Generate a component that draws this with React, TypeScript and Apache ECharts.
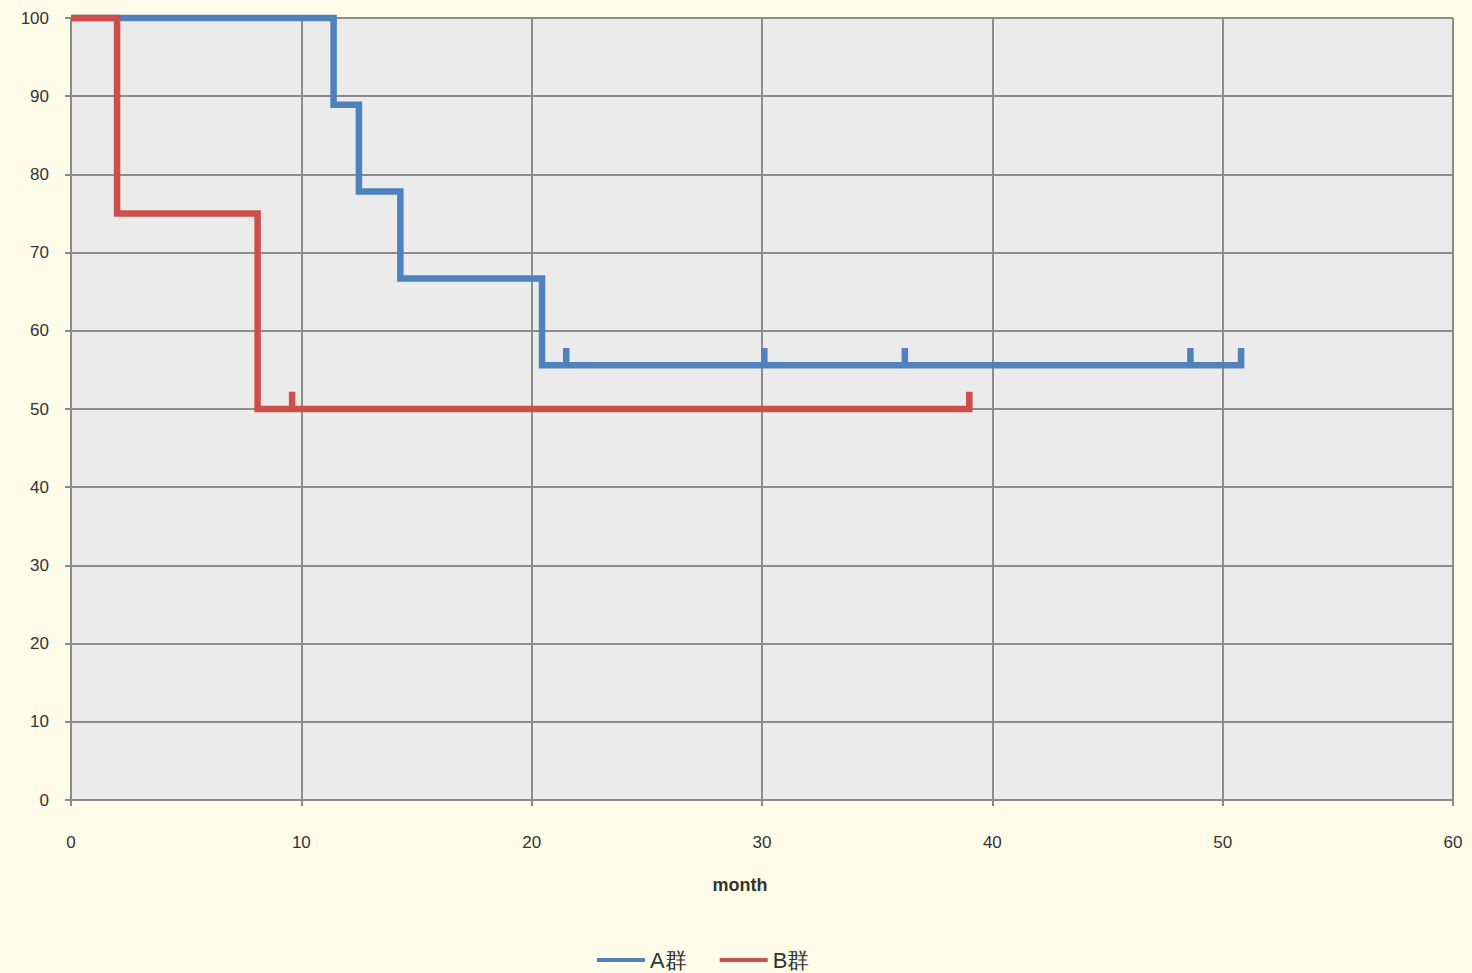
import React, { useEffect, useRef } from "react";
import * as echarts from "echarts";

// Kaplan–Meier data
const groupNames = ["A群", "B群"];
// Group A: event times (month) and survival (%) after each event
const aEventTimes = [11.4, 12.5, 14.3, 20.45];
const aSurvival = [88.9, 77.8, 66.7, 55.6];
const aCensorTimes = [21.5, 30.1, 36.2, 48.6, 50.8];
// Group B
const bEventTimes = [2.0, 8.1];
const bSurvival = [75, 50];
const bCensorTimes = [9.6, 39.0];

const tickHeight = 2.2; // censor tick height, in %
const xTicks = [0, 10, 20, 30, 40, 50, 60];
const yTicks = [0, 10, 20, 30, 40, 50, 60, 70, 80, 90, 100];

function kmPath(events: number[], surv: number[], censors: number[]) {
  type Ev = { t: number; kind: "e" | "c"; s?: number };
  const all: Ev[] = [
    ...events.map((t, i) => ({ t, kind: "e" as const, s: surv[i] })),
    ...censors.map((t) => ({ t, kind: "c" as const })),
  ].sort((a, b) => a.t - b.t);
  const pts: number[][] = [[0, 100]];
  let cur = 100;
  for (const e of all) {
    if (e.kind === "e") {
      pts.push([e.t, cur]);
      cur = e.s as number;
      pts.push([e.t, cur]);
    } else {
      pts.push([e.t, cur]);
      pts.push([e.t, cur + tickHeight]);
      pts.push([e.t, cur]);
    }
  }
  return pts;
}

export default function App() {
  const ref = useRef<HTMLDivElement>(null);
  useEffect(() => {
    document.body.style.margin = "0";
    const chart = echarts.init(ref.current!, undefined, { renderer: "svg" });
    const font = "'Liberation Sans', Arial, sans-serif";
    chart.setOption({
      animation: false,
      backgroundColor: "#fffde9",
      textStyle: { fontFamily: font },
      grid: {
        left: 71,
        right: 19,
        top: 18,
        bottom: 173,
        show: true,
        backgroundColor: "#ebebeb",
        borderWidth: 0,
      },
      legend: {
        left: 592,
        top: 944,
        itemWidth: 48,
        itemHeight: 4,
        itemGap: 33,
        icon: "rect",
        textStyle: { fontSize: 22, color: "#333", fontFamily: font },
        data: groupNames,
      },
      xAxis: {
        type: "value",
        min: 0,
        max: 60,
        interval: 10,
        name: "month",
        nameLocation: "middle",
        nameGap: 76,
        nameTextStyle: {
          fontSize: 18,
          fontWeight: "bold",
          color: "#333",
          padding: [0, 44, 0, 0],
        },
        axisLine: { show: true, lineStyle: { color: "#8a8a8a", width: 2 } },
        axisTick: { show: true, length: 6, lineStyle: { color: "#8a8a8a", width: 2 } },
        axisLabel: {
          margin: 34,
          fontSize: 17,
          color: "#333",
          formatter: (v: number) => (xTicks.includes(v) ? String(v) : ""),
        },
        splitLine: { show: true, lineStyle: { color: "#8c8c8c", width: 2 } },
      },
      yAxis: {
        type: "value",
        min: 0,
        max: 100,
        interval: 10,
        axisLine: { show: true, lineStyle: { color: "#8a8a8a", width: 2 } },
        axisTick: { show: true, length: 6, lineStyle: { color: "#8a8a8a", width: 2 } },
        axisLabel: {
          margin: 22,
          fontSize: 17,
          color: "#333",
          formatter: (v: number) => (yTicks.includes(v) ? String(v) : ""),
        },
        splitLine: { show: true, lineStyle: { color: "#8c8c8c", width: 2 } },
      },
      series: [
        {
          name: groupNames[0],
          type: "line",
          data: kmPath(aEventTimes, aSurvival, aCensorTimes),
          showSymbol: false,
          symbol: "none",
          clip: false,
          color: "#4f81bd",
          lineStyle: { width: 6.5, color: "#4f81bd", join: "miter" },
        },
        {
          name: groupNames[1],
          type: "line",
          data: kmPath(bEventTimes, bSurvival, bCensorTimes),
          showSymbol: false,
          symbol: "none",
          clip: false,
          color: "#cd4f4c",
          lineStyle: { width: 6.5, color: "#cd4f4c", join: "miter" },
        },
      ],
    });
    return () => chart.dispose();
  }, []);
  return (
    <div
      ref={ref}
      style={{ position: "absolute", left: 0, top: 0, width: 1472, height: 973 }}
    />
  );
}
